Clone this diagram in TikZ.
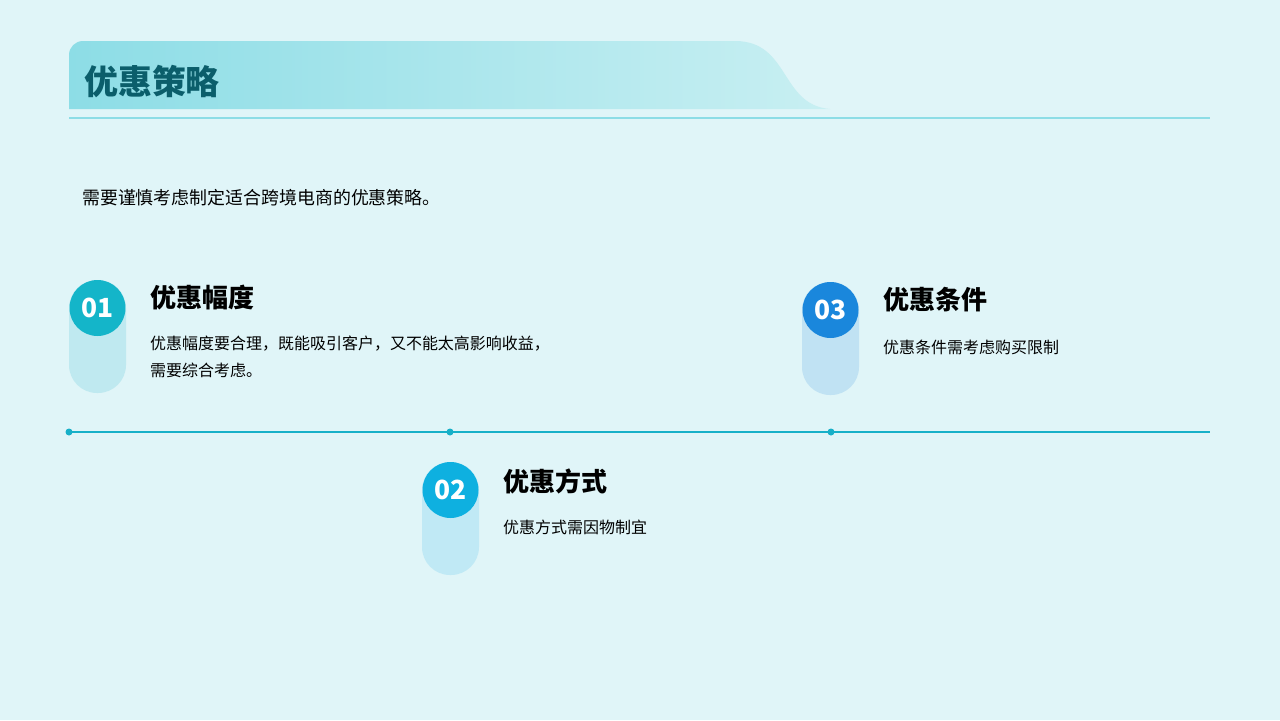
\documentclass[tikz,border=0pt]{standalone}
\usepackage{fontspec}
\setmainfont{Noto Sans CJK SC}
\usetikzlibrary{positioning}
\definecolor{bgc}{HTML}{E0F5F8}
\definecolor{headl}{HTML}{8DDDE6}
\definecolor{headr}{HTML}{C8EFF2}
\definecolor{titc}{HTML}{0B5E6B}
\definecolor{linec}{HTML}{17B0C8}
\definecolor{cA}{HTML}{14B5C9}
\definecolor{cB}{HTML}{0EB0E0}
\definecolor{cC}{HTML}{1A87DC}
\definecolor{pA}{HTML}{BFE9F0}
\definecolor{pB}{HTML}{C0E9F5}
\definecolor{pC}{HTML}{C0E2F3}
\begin{document}
\begin{tikzpicture}[x=0.02cm,y=-0.02cm,
    pill/.style={rounded corners=0.56cm},
    numc/.style={shape=circle,minimum size=1.12cm,inner sep=0pt,text=white,font=\fontsize{15}{15}\selectfont\bfseries},
    head/.style={anchor=west,font=\fontsize{14.8}{16}\selectfont\bfseries},
    body/.style={anchor=north west,font=\fontsize{9.1}{15}\selectfont,align=left}]
    \fill[bgc] (0,0) rectangle (1280,720);
    \useasboundingbox (0,0) rectangle (1280,720);
    % header band
    \shade[left color=headl,right color=headr]
        (69,109) -- (69,55) arc[start angle=180,end angle=90,x radius=14,y radius=-14]
        -- (735,41) .. controls (790,41) and (780,105) .. (830,109) -- cycle;
    \node[anchor=west,text=titc,font=\fontsize{19.3}{20}\selectfont\bfseries] (title) at (78,82) {优惠策略};
    \draw[color=headl,line width=0.6pt] (69,118) -- (1210,118);
    \node[anchor=west,font=\fontsize{10.2}{12}\selectfont] (sub) at (76,198) {需要谨慎考虑制定适合跨境电商的优惠策略。};
    % timeline
    \coordinate (t0) at (69,432);
    \coordinate (t3) at (1210,432);
    \draw[color=linec,line width=1.4pt] (t0) -- (t3);
    \foreach \x in {69,450,831} \fill[linec] (\x,432) circle (3.5);
    % pills
    \fill[pA,pill] (69,280) rectangle (126,393);
    \fill[pC,pill] (802,282) rectangle (859,395);
    \fill[pB,pill] (422,462) rectangle (479,575);
    \node[numc,fill=cA] (n1) at (97.5,308) {01};
    \node[numc,fill=cC] (n3) at (830.5,310) {03};
    \node[numc,fill=cB] (n2) at (450.5,490) {02};
    % items
    \node[head] (h1) at (144,298) {优惠幅度};
    \node[body] (b1) at (144,330) {优惠幅度要合理，既能吸引客户，又不能太高影响收益，\\需要综合考虑。};
    \node[head] (h3) at (877,300) {优惠条件};
    \node[body] (b3) at (877,334) {优惠条件需考虑购买限制};
    \node[head] (h2) at (497,481) {优惠方式};
    \node[body] (b2) at (497,514) {优惠方式需因物制宜};
\end{tikzpicture}
\end{document}
